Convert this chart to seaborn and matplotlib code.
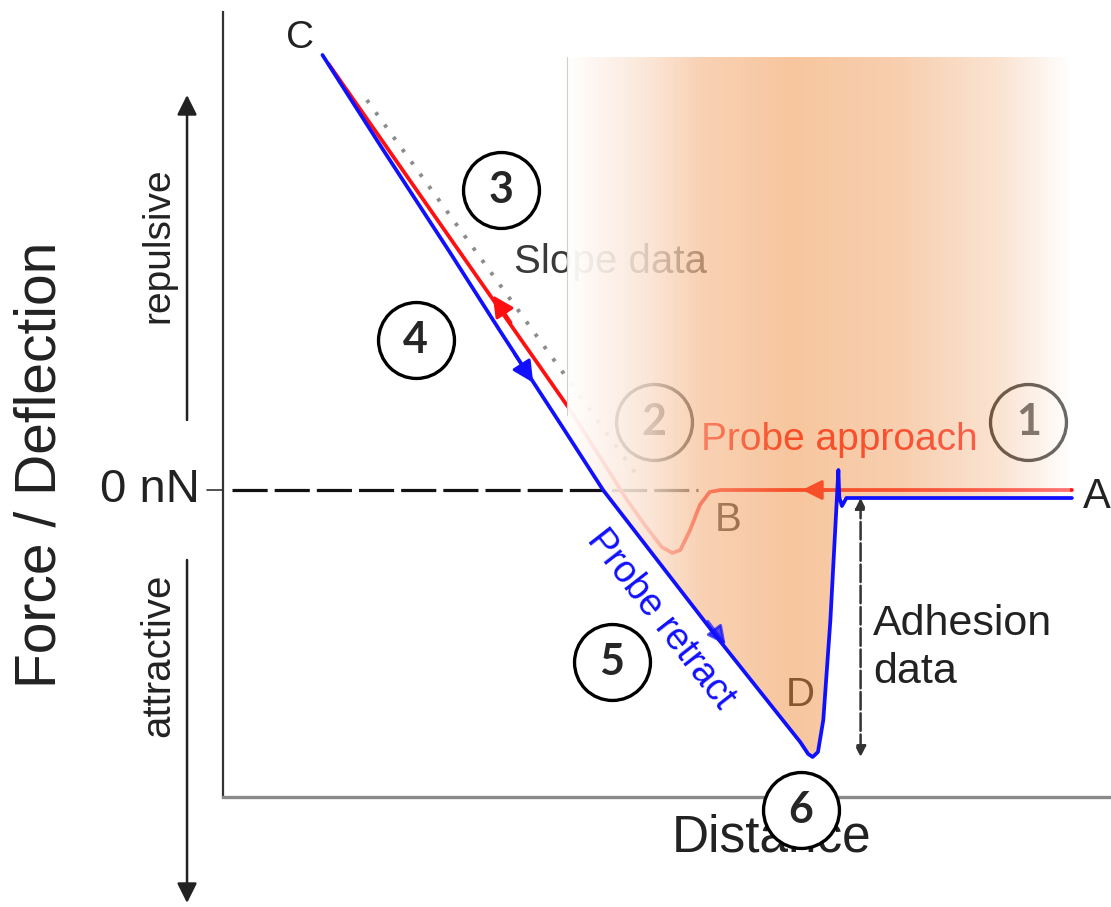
import numpy as np
import pandas as pd
import matplotlib
matplotlib.use("Agg")
import matplotlib.pyplot as plt
from matplotlib.patches import Polygon
import seaborn as sns

# approach curve (red): A -> B (snap-in) -> C, distance vs force (arb. units)
approach_dist = [95.6, 56.0, 54.8, 53.7, 52.6, 51.5, 50.6, 49.4, 47.5, 45.5, 39.1, 25.8, 11.9]
approach_force = [0.0, 0.0, -0.2, -1.5, -4.0, -6.0, -6.3, -5.7, -3.5, -1.0, 8.0, 24.9, 42.6]

# retract curve (blue): C -> D (pull-off) -> A
retract_dist = [11.2, 17.9, 25.6, 31.2, 38.3, 42.8, 55.6, 65.0, 65.9, 66.4, 67.0, 67.6, 68.4,
                69.0, 69.3, 69.4, 69.7, 70.2, 95.6]
retract_force = [43.5, 34.2, 23.7, 15.9, 6.2, 0.0, -14.7, -25.2, -26.4, -26.7, -26.2, -23.0, -13.0,
                 -3.0, 2.0, -0.7, -1.6, -0.8, -0.8]

# dotted slope fit
slope_dist = [16.2, 47.0]
slope_force = [39.0, 1.0]

# circled step numbers
step_labels = ["1", "2", "3", "4", "5", "6"]
step_dist = [90.7, 48.5, 31.3, 21.7, 43.8, 65.1]
step_force = [6.8, 6.8, 30.0, 15.0, -17.2, -32.0]

RED = "#ff1010"
BLUE = "#1010ff"

sns.set_theme(style="white")
plt.rcParams["font.family"] = ["Liberation Sans", "DejaVu Sans"]

fig = plt.figure(figsize=(11.11, 9.07), dpi=100)
ax = fig.add_axes([223 / 1111, 110 / 907, 888 / 1111, 785 / 907])
ax.set_xlim(0, 100)
ax.set_ylim(-30.7, 47.8)
for s in ["top", "right"]:
    ax.spines[s].set_visible(False)
ax.spines["left"].set_color("#333333")
ax.spines["left"].set_linewidth(1.6)
ax.spines["bottom"].set_color("#8a8a8a")
ax.spines["bottom"].set_linewidth(2.4)
ax.set_xticks([])
ax.set_yticks([])

approach = pd.DataFrame({"dist": approach_dist, "force": approach_force})
retract = pd.DataFrame({"dist": retract_dist, "force": retract_force})

# zero force reference
ax.plot([1.0, 53.5], [0, 0], color="#111111", lw=2.3, dashes=(11, 2.2), zorder=2)
ax.plot([-1.8, 0], [0, 0], color="#333333", lw=1.2, clip_on=False, zorder=2)

sns.lineplot(data=approach, x="dist", y="force", sort=False, estimator=None,
             color=RED, lw=2.7, ax=ax, zorder=3)
ax.plot(slope_dist, slope_force, color="#8c8c8c", lw=2.8, dashes=(0.9, 3.0),
        dash_capstyle="butt", zorder=2)

# arrows along approach
ax.annotate("", xy=(30.2, 19.7), xytext=(32.6, 16.5),
            arrowprops=dict(arrowstyle="-|>", color=RED, lw=2.2, mutation_scale=32), zorder=3)
ax.annotate("", xy=(64.9, 0.0), xytext=(68.5, 0.0),
            arrowprops=dict(arrowstyle="-|>", color=RED, lw=2.2, mutation_scale=30), zorder=3)

# texts under the shaded band
ax.text(43.6, 22.8, "Slope data", fontsize=29, color="#3a3a3a", ha="center", va="center", zorder=3)
ax.text(69.4, 5.0, "Probe approach", fontsize=28, color=RED, ha="center", va="center", zorder=3)
ax.text(56.9, -3.0, "B", fontsize=29, color="#222222", ha="center", va="center", zorder=3)
ax.text(65.0, -20.5, "D", fontsize=29, color="#222222", ha="center", va="center", zorder=3)

# shaded band (gradient), clipped to the region right of retract curve
sh_left, sh_right, sh_top = 38.7, 95.4, 43.3
gx = np.linspace(sh_left, sh_right, 600)
stop_x = [38.7, 48.1, 53.7, 63.9, 76.2, 87.5, 95.4]
stop_rgb = np.array([[255, 255, 255], [251, 230, 215], [249, 210, 180], [247, 198, 158],
                     [248, 207, 175], [251, 228, 210], [255, 255, 255]]) / 255
stop_a = [0.97, 0.85, 0.66, 0.5, 0.48, 0.46, 0.42]
alpha = np.interp(gx, stop_x, stop_a)
bg = np.stack([np.interp(gx, stop_x, stop_rgb[:, k]) for k in range(3)], axis=1)
col = np.clip(1 - (1 - bg) / alpha[:, None], 0, 1)
rgba = np.concatenate([col, alpha[:, None]], axis=1)[None, :, :].repeat(2, axis=0)
im = ax.imshow(rgba, extent=[sh_left, sh_right, -30.0, sh_top], origin="lower",
               aspect="auto", interpolation="bilinear", zorder=5)
edge = list(zip(retract_dist[4:14], retract_force[4:14]))[::-1]
poly_pts = [(sh_left, sh_top), (sh_right, sh_top), (sh_right, retract_force[-1]),
            (retract_dist[15], retract_force[-1])] + edge + [(sh_left, retract_force[4])]
clip = Polygon(poly_pts, closed=True, transform=ax.transData, fc="none", ec="none")
ax.add_patch(clip)
im.set_clip_path(clip)
ax.plot([sh_left, sh_left], [sh_top, 7.5], color="#d0d0d0", lw=0.8, zorder=5)

# circles under the band
for lab, x, y in zip(step_labels[:2], step_dist[:2], step_force[:2]):
    ax.scatter([x], [y], s=2990, facecolor="white", edgecolor="black", linewidth=2.4, zorder=4)
    ax.text(x, y, lab, fontsize=31, fontweight="bold", family="Lato", ha="center",
            va="center", zorder=4)

# retract curve on top
sns.lineplot(data=retract, x="dist", y="force", sort=False, estimator=None,
             color=BLUE, lw=2.7, ax=ax, zorder=6)
ax.annotate("", xy=(35.1, 10.5), xytext=(32.7, 13.8),
            arrowprops=dict(arrowstyle="-|>", color=BLUE, lw=2.2, mutation_scale=32), zorder=6)
ax.annotate("", xy=(56.8, -15.7), xytext=(54.4, -12.9),
            arrowprops=dict(arrowstyle="-|>", color=BLUE, lw=2, mutation_scale=28, alpha=0.7),
            zorder=6)
ax.text(49.3, -12.9, "Probe retract", fontsize=27, color=BLUE, ha="center", va="center",
        rotation=-52, rotation_mode="anchor", zorder=6)

# adhesion arrow
ax.annotate("", xy=(71.8, min(retract_force)), xytext=(71.8, retract_force[-1]),
            arrowprops=dict(arrowstyle="<|-|>", color="#333333", lw=1.8, ls=(0, (7, 1.5)),
                            mutation_scale=16, shrinkA=0, shrinkB=0), zorder=6)
ax.text(73.2, -15.8, "Adhesion\ndata", fontsize=31, color="#222222", ha="left", va="center",
        linespacing=1.25, zorder=6)

ax.text(8.7, 45.2, "C", fontsize=28, color="#222222", ha="center", va="center", zorder=6)
ax.text(98.4, -0.7, "A", fontsize=30, color="#222222", ha="center", va="center",
        clip_on=False, zorder=6)

ax.text(61.8, -34.8, "Distance", fontsize=37, color="#222222", ha="center", va="center",
        clip_on=False, zorder=6)

# circles on top
for lab, x, y in zip(step_labels[2:], step_dist[2:], step_force[2:]):
    ax.scatter([x], [y], s=2990, facecolor="white", edgecolor="black", linewidth=2.4,
               zorder=8, clip_on=False)
    ax.text(x, y, lab, fontsize=31, fontweight="bold", family="Lato", ha="center",
            va="center", zorder=9)

# y axis annotation
ax.text(-2.6, 0, "0 nN", fontsize=34, color="#222222", ha="right", va="center", clip_on=False)
ax.text(-20.6, 2.5, "Force / Deflection", fontsize=41, color="#222222", ha="center",
        va="center", rotation=90, clip_on=False)
ax.text(-7.3, 24.5, "repulsive", fontsize=28, color="#222222", ha="center", va="center",
        rotation=90, clip_on=False)
ax.text(-7.3, -16.5, "attractive", fontsize=29, color="#222222", ha="center", va="center",
        rotation=90, clip_on=False)
for y0, y1 in [(7.0, 39.5), (-7.0, -41.3)]:
    ax.annotate("", xy=(-4.05, y1), xytext=(-4.05, y0), annotation_clip=False,
                arrowprops=dict(arrowstyle="-|>", color="#222222", lw=1.8, mutation_scale=30,
                                shrinkA=0, shrinkB=0))

ax.set_xlabel("")
ax.set_ylabel("")
fig.savefig("out.png", dpi=100)
